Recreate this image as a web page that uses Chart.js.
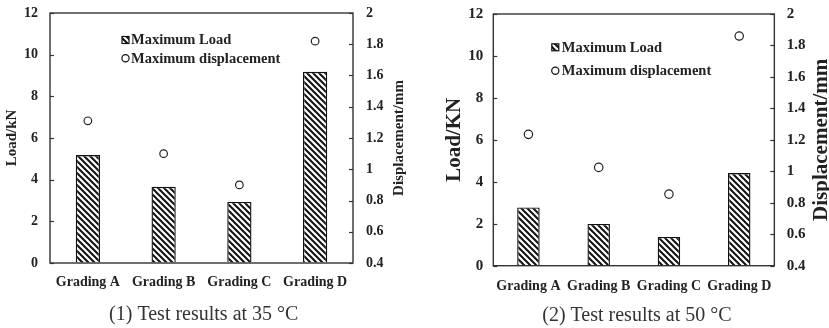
<!DOCTYPE html>
<html>
<head>
<meta charset="utf-8">
<script src="https://cdn.jsdelivr.net/npm/chart.js@4.4.1/dist/chart.umd.min.js"></script>
<style>
  html, body { margin: 0; padding: 0; background: #fff; }
  #wrap { position: relative; width: 829px; height: 328px; overflow: hidden; }
  .panel { position: absolute; top: 0; height: 328px; }
  #p1 { left: 0; width: 415px; }
  #p2 { left: 415px; width: 414px; }
</style>
</head>
<body>
<div id="wrap">
  <div class="panel" id="p1"><canvas id="c1"></canvas></div>
  <div class="panel" id="p2"><canvas id="c2"></canvas></div>
</div>
<script>
// Categories shared by both panels
const gradings = ['Grading A', 'Grading B', 'Grading C', 'Grading D'];

// Series names
const loadLabel = 'Maximum Load';
const dispLabel = 'Maximum displacement';

// 35 °C test results
const load35 = [5.18, 3.66, 2.93, 9.18];   // kN
const disp35 = [1.31, 1.10, 0.90, 1.82];   // mm

// 50 °C test results
const load50 = [2.78, 1.99, 1.37, 4.42];   // kN
const disp50 = [1.235, 1.025, 0.855, 1.86]; // mm

// Axis ranges and tick steps: [min, max, step]
const loadAxis = [0, 12, 2];
const dispAxis = [0.4, 2, 0.2];

// Axis titles and captions
const titles35 = ['Load/kN', 'Displacement/mm'];
const titles50 = ['Load/KN', 'Displacement/mm'];
const caption35 = '(1) Test results at 35 \u00B0C';
const caption50 = '(2) Test results at 50 \u00B0C';

const SERIF = "'Liberation Serif', 'Times New Roman', serif";
const INK = '#222';
const AXIS = '#333';

// Backslash hatch used to fill the bars
function makeHatch() {
  const s = 6;
  const c = document.createElement('canvas');
  c.width = s; c.height = s;
  const g = c.getContext('2d');
  g.fillStyle = '#fff';
  g.fillRect(0, 0, s, s);
  g.strokeStyle = '#111';
  g.lineWidth = 2;
  g.beginPath();
  g.moveTo(-1, -1); g.lineTo(s + 1, s + 1);
  g.moveTo(-1, s - 1); g.lineTo(1, s + 1);
  g.moveTo(s - 1, -1); g.lineTo(s + 1, 1);
  g.stroke();
  return g.createPattern(c, 'repeat');
}
const hatch = makeHatch();

// Frame around the plot, inward tick marks, rotated axis titles, inset legend
const decorations = {
  id: 'decorations',
  afterDatasetsDraw(chart, args, o) {
    const ctx = chart.ctx;
    const a = chart.chartArea;
    ctx.save();
    // frame
    ctx.strokeStyle = AXIS;
    ctx.lineWidth = 1.4;
    ctx.strokeRect(a.left, a.top, a.right - a.left, a.bottom - a.top);
    // inward ticks
    ctx.lineWidth = 1.2;
    ['y', 'y1'].forEach(id => {
      const sc = chart.scales[id];
      const x0 = id === 'y' ? a.left : a.right;
      const dir = id === 'y' ? 1 : -1;
      sc.ticks.forEach(t => {
        const py = Math.round(sc.getPixelForValue(t.value)) + 0.5;
        ctx.beginPath();
        ctx.moveTo(x0, py);
        ctx.lineTo(x0 + dir * 4, py);
        ctx.stroke();
      });
    });
    // axis titles, both reading bottom-to-top
    ctx.fillStyle = INK;
    ctx.font = 'bold ' + o.titleSize + 'px ' + SERIF;
    ctx.textAlign = 'center';
    ctx.textBaseline = 'middle';
    const midY = (a.top + a.bottom) / 2;
    [[o.titles[0], a.left - o.leftTitleGap], [o.titles[1], a.right + o.rightTitleGap]].forEach(([txt, x]) => {
      ctx.save();
      ctx.translate(x, midY);
      ctx.rotate(-Math.PI / 2);
      ctx.fillText(txt, 0, 0);
      ctx.restore();
    });
    // legend inside the plot
    const ds = chart.data.datasets;
    const ix = a.left + o.legendX;
    ctx.font = 'bold ' + o.legendSize + 'px ' + SERIF;
    ctx.textAlign = 'left';
    ds.forEach((d, i) => {
      const y = a.top + o.legendY[i];
      ctx.lineWidth = 1.2;
      ctx.strokeStyle = '#111';
      if (d.type === 'bar') {
        ctx.fillStyle = hatch;
        ctx.fillRect(ix - 3.5, y - 3.5, 7, 7);
        ctx.strokeRect(ix - 3.5, y - 3.5, 7, 7);
      } else {
        ctx.fillStyle = '#fff';
        ctx.beginPath();
        ctx.arc(ix, y, 3.6, 0, Math.PI * 2);
        ctx.fill();
        ctx.stroke();
      }
      ctx.fillStyle = INK;
      ctx.fillText(d.label, ix + o.legendTextGap, y + 0.5);
    });
    ctx.restore();
  }
};

// Invisible outer tick marks only reserve the gap between axis and labels
function gapGrid(len) {
  return { display: true, drawOnChartArea: false, drawTicks: true, tickLength: len, color: 'rgba(0,0,0,0)' };
}

function buildChart(id, loads, disps, caption, s) {
  return new Chart(document.getElementById(id), {
    data: {
      labels: gradings,
      datasets: [
        {
          type: 'bar',
          label: loadLabel,
          data: loads,
          yAxisID: 'y',
          backgroundColor: hatch,
          borderColor: '#111',
          borderWidth: 1.4,
          categoryPercentage: 0.8,
          barPercentage: 0.4,
          order: 2
        },
        {
          type: 'line',
          label: dispLabel,
          data: disps,
          yAxisID: 'y1',
          showLine: false,
          pointStyle: 'circle',
          pointRadius: s.pointRadius,
          pointBorderWidth: 1.2,
          pointBackgroundColor: '#fff',
          pointBorderColor: '#222',
          order: 1
        }
      ]
    },
    options: {
      responsive: true,
      maintainAspectRatio: false,
      animation: false,
      events: [],
      layout: { padding: s.padding },
      plugins: {
        legend: { display: false },
        tooltip: { enabled: false },
        title: {
          display: true,
          position: 'bottom',
          text: caption,
          color: '#333',
          font: { family: SERIF, size: 20, weight: 'normal' },
          padding: s.captionPad
        },
        decorations: s.deco
      },
      scales: {
        x: {
          offset: true,
          grid: gapGrid(s.xGap),
          border: { display: false },
          ticks: {
            color: INK,
            padding: 0,
            maxRotation: 0,
            autoSkip: false,
            font: { family: SERIF, size: 14, weight: 'bold' }
          }
        },
        y: {
          position: 'left',
          min: loadAxis[0], max: loadAxis[1],
          grid: gapGrid(s.yGap),
          border: { display: false },
          ticks: {
            stepSize: loadAxis[2],
            color: INK,
            padding: 0,
            font: { family: SERIF, size: s.tickSize, weight: 'bold' }
          }
        },
        y1: {
          position: 'right',
          min: dispAxis[0], max: dispAxis[1],
          grid: gapGrid(s.y1Gap),
          border: { display: false },
          ticks: {
            stepSize: dispAxis[2],
            color: INK,
            padding: 0,
            font: { family: SERIF, size: s.tickSize, weight: 'bold' },
            callback: v => String(+v.toFixed(1))
          }
        }
      }
    },
    plugins: [decorations]
  });
}

buildChart('c1', load35, disp35, caption35, {
  padding: { left: 24, right: 31.5, top: 13, bottom: 0 },
  captionPad: { top: 11.7, bottom: 1.5 },
  xGap: 11, yGap: 12, y1Gap: 13, tickSize: 14, pointRadius: 3.8,
  deco: {
    titles: titles35, titleSize: 15, leftTitleGap: 38, rightTitleGap: 46,
    legendX: 75.5, legendY: [27, 45.3], legendTextGap: 5.5, legendSize: 14.5
  }
});

buildChart('c2', load50, disp50, caption50, {
  padding: { left: 53.3, right: 23.5, top: 14, bottom: 0 },
  captionPad: { top: 8.2, bottom: 0.7 },
  xGap: 12.6, yGap: 10, y1Gap: 12.4, tickSize: 15, pointRadius: 4.2,
  deco: {
    titles: titles50, titleSize: 21, leftTitleGap: 38.3, rightTitleGap: 47.7,
    legendX: 62, legendY: [33.3, 56.7], legendTextGap: 6.5, legendSize: 14.5
  }
});
</script>
</body>
</html>
